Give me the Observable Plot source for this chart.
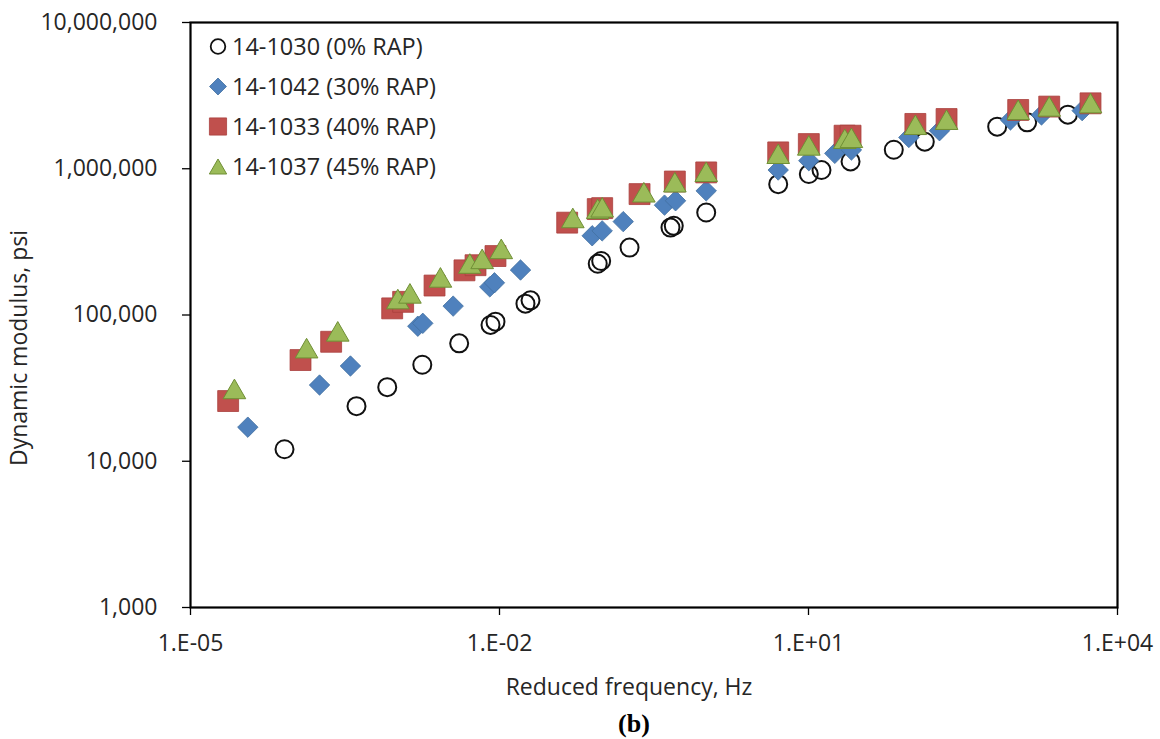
<!DOCTYPE html>
<html>
<head>
<meta charset="utf-8">
<script src="https://cdn.jsdelivr.net/npm/d3@7"></script>
<script src="https://cdn.jsdelivr.net/npm/@observablehq/plot@0.6"></script>
<style>
  html, body { margin: 0; padding: 0; background: #fff; }
  #chart { width: 1160px; height: 739px; }
</style>
</head>
<body>
<div id="chart"></div>
<script>
// ---- Data ----
const seriesNames = ["14-1030 (0% RAP)", "14-1042 (30% RAP)", "14-1033 (40% RAP)", "14-1037 (45% RAP)"];

const freq0 = [8.18e-5, 4.09e-4, 8.13e-4, 1.78e-3, 4.06e-3, 8.18e-3, 9.14e-3, 0.01786, 0.0200, 0.0899, 0.0971, 0.183, 0.457, 0.492, 1.016, 5.08, 10.07, 13.37, 25.6, 67.3, 134.6, 679, 1327, 3296];
const mod0  = [12080, 23800, 32100, 45700, 64000, 85500, 90000, 119500, 126000, 224000, 234000, 289000, 396000, 407000, 502000, 785000, 920000, 980000, 1122000, 1349000, 1531000, 1941000, 2076000, 2344000];

const freq1 = [3.60e-5, 1.79e-4, 3.57e-4, 1.61e-3, 1.80e-3, 3.55e-3, 8.05e-3, 8.93e-3, 0.0160, 0.0794, 0.0993, 0.159, 0.400, 0.512, 1.016, 5.08, 10.07, 18.0, 26.1, 94.2, 187, 914, 1828, 4539];
const mod1  = [17100, 33200, 44800, 83800, 87700, 115000, 155700, 166000, 203000, 348000, 376000, 435000, 564000, 604000, 706000, 980000, 1135000, 1274000, 1343000, 1637000, 1820000, 2157000, 2333000, 2496000];

const freq2 = [2.32e-5, 1.17e-4, 2.32e-4, 9.08e-4, 1.16e-3, 2.34e-3, 4.57e-3, 5.85e-3, 9.14e-3, 0.0454, 0.0899, 0.0993, 0.229, 0.504, 1.016, 5.08, 10.07, 22.4, 25.6, 109, 219, 1086, 2173, 5470];
const mod2  = [25800, 49200, 65600, 111000, 123000, 159000, 202000, 219000, 253000, 428000, 530000, 538000, 671000, 818000, 944000, 1294000, 1475000, 1683000, 1683000, 2025000, 2188000, 2523000, 2661000, 2801000];

const freq3 = [2.67e-5, 1.34e-4, 2.69e-4, 1.03e-3, 1.35e-3, 2.67e-3, 5.15e-3, 6.79e-3, 0.0104, 0.0515, 0.0899, 0.0993, 0.252, 0.504, 1.016, 5.08, 10.07, 22.5, 26.1, 109, 219, 1086, 2173, 5470];
const mod3  = [31100, 59100, 77000, 128000, 140000, 180000, 224000, 241000, 282000, 459000, 530000, 543000, 688000, 806000, 950000, 1262000, 1439000, 1597000, 1622000, 1990000, 2157000, 2520000, 2660000, 2800000];

const xTicks = [1e-5, 1e-2, 1e1, 1e4];
const xTickLabels = ["1.E-05", "1.E-02", "1.E+01", "1.E+04"];
const yTicks = [1e3, 1e4, 1e5, 1e6, 1e7];
const yTickLabels = ["1,000", "10,000", "100,000", "1,000,000", "10,000,000"];

const xTitle = "Reduced frequency, Hz";
const yTitle = "Dynamic modulus, psi";
const caption = "(b)";

// ---- Build tables ----
const toRows = (xs, ys) => xs.map((x, i) => ({x, y: ys[i]}));
const d0 = toRows(freq0, mod0);
const d1 = toRows(freq1, mod1);
const d2 = toRows(freq2, mod2);
const d3rows = toRows(freq3, mod3);

const textColor = "#262626";
const font = "'Open Sans', sans-serif";

const chart = Plot.plot({
  width: 1160,
  height: 739,
  marginLeft: 190,
  marginRight: 43,
  marginTop: 22,
  marginBottom: 132,
  style: {fontFamily: font, fontSize: "23px", background: "#fff", color: textColor},
  x: {type: "log", domain: [1e-5, 1e4]},
  y: {type: "log", domain: [1e3, 1e7]},
  marks: [
    Plot.frame({stroke: "#000", strokeWidth: 2.2}),
    Plot.dot(d0, {x: "x", y: "y", r: 9, symbol: "circle", fill: "none", stroke: "#111", strokeWidth: 2}),
    Plot.dot(d1, {x: "x", y: "y", r: 9.2, symbol: "diamond2", fill: "#4F81BD", stroke: "#41709f", strokeWidth: 0.8}),
    Plot.dot(d2, {x: "x", y: "y", r: 11.8, symbol: "square", fill: "#C0504D", stroke: "#a9403d", strokeWidth: 0.8}),
    Plot.dot(d3rows, {x: "x", y: "y", r: 8.4, dy: 3, symbol: "triangle", fill: "#9BBB59", stroke: "#6f8f35", strokeWidth: 1}),
    Plot.axisX(xTicks, {
      tickSize: 8, tickPadding: 19, stroke: "#000", strokeWidth: 1.3, fill: textColor,
      tickFormat: d => xTickLabels[xTicks.indexOf(d)], label: null, fontSize: 23
    }),
    Plot.axisY(yTicks, {
      tickSize: 8, tickPadding: 25, stroke: "#000", strokeWidth: 1.3, fill: textColor,
      tickFormat: d => yTickLabels[yTicks.indexOf(d)], label: null, fontSize: 23
    })
  ]
});

document.getElementById("chart").appendChild(chart);

// ---- Titles, legend, caption ----
const svg = d3.select(chart);

svg.append("text")
  .attr("x", 629).attr("y", 695)
  .attr("text-anchor", "middle")
  .attr("font-family", font).attr("font-size", 23)
  .attr("fill", textColor)
  .text(xTitle);

svg.append("text")
  .attr("transform", "translate(27,348) rotate(-90)")
  .attr("text-anchor", "middle")
  .attr("font-family", font).attr("font-size", 23)
  .attr("fill", textColor)
  .text(yTitle);

svg.append("text")
  .attr("x", 634).attr("y", 732)
  .attr("text-anchor", "middle")
  .attr("font-family", "'Liberation Serif', 'Times New Roman', serif")
  .attr("font-weight", "bold")
  .attr("font-size", 26)
  .attr("fill", "#000")
  .text(caption);

const legendStyles = [
  {type: d3.symbolCircle, size: Math.PI * 7.3 * 7.3, fill: "none", stroke: "#111", sw: 1.8, dy: 0},
  {type: d3.symbolDiamond2, size: 184, fill: "#4F81BD", stroke: "#41709f", sw: 0.8, dy: 0},
  {type: d3.symbolSquare, size: 295, fill: "#C0504D", stroke: "#a9403d", sw: 0.8, dy: 0},
  {type: d3.symbolTriangle, size: 130, fill: "#9BBB59", stroke: "#6f8f35", sw: 1, dy: 2.5}
];

const legend = svg.append("g").attr("text-anchor", "start");
seriesNames.forEach((name, i) => {
  const cy = 46.5 + 40 * i;
  const st = legendStyles[i];
  legend.append("path")
    .attr("transform", `translate(218,${cy + st.dy})`)
    .attr("d", d3.symbol().type(st.type).size(st.size)())
    .attr("fill", st.fill).attr("stroke", st.stroke).attr("stroke-width", st.sw);
  legend.append("text")
    .attr("x", 232).attr("y", cy + 8)
    .attr("text-anchor", "start")
    .attr("font-family", font).attr("font-size", 23.5)
    .attr("fill", textColor)
    .text(name);
});
</script>
</body>
</html>
